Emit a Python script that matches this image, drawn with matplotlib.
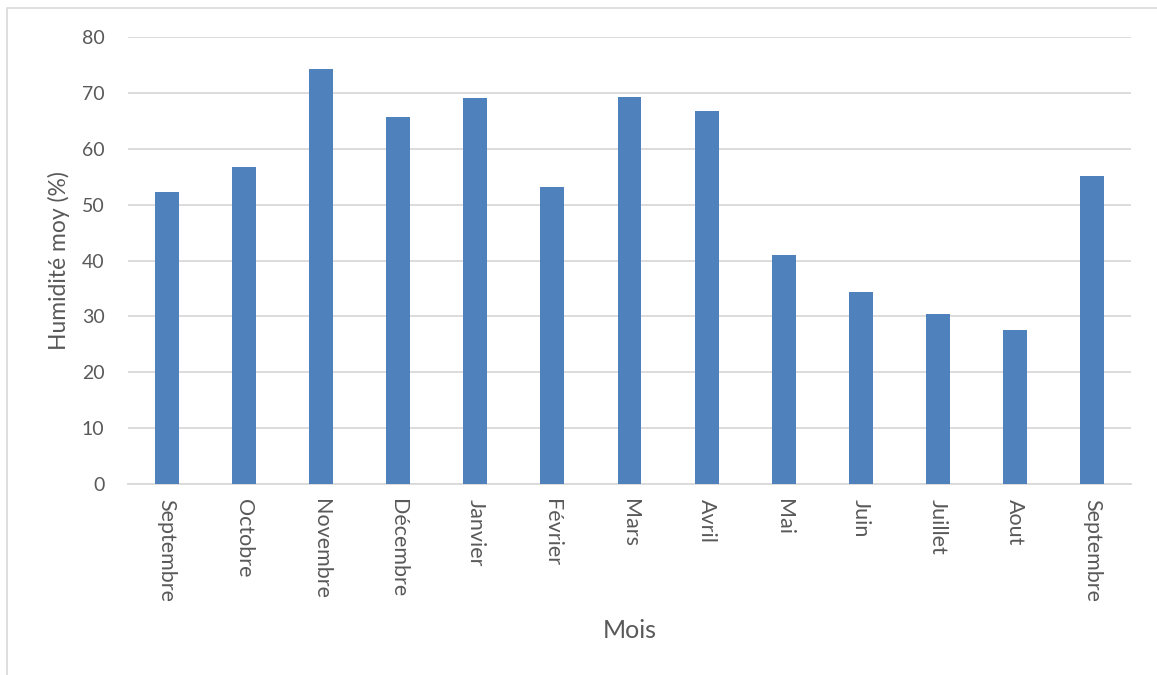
import matplotlib.pyplot as plt
from matplotlib.patches import Rectangle

mois = ["Septembre", "Octobre", "Novembre", "Décembre", "Janvier", "Février",
        "Mars", "Avril", "Mai", "Juin", "Juillet", "Aout", "Septembre"]
humidite = [52.3, 56.8, 74.2, 65.6, 69.0, 53.2, 69.3, 66.7, 40.9, 34.4, 30.5, 27.6, 55.1]

plt.rcParams["font.family"] = ["Lato", "DejaVu Sans"]
txt = "#595959"
grid = "#d9d9d9"

fig = plt.figure(figsize=(11.57, 6.75), dpi=100)
# outer chart frame (light grey, like the spreadsheet chart border)
fig.patches.append(Rectangle((7 / 1157, -0.01), 1.0, (675 - 8) / 675 + 0.01,
                             transform=fig.transFigure, fill=False,
                             edgecolor=grid, linewidth=1.2))

ax = fig.add_axes([128 / 1157, (675 - 484) / 675, (1131 - 128) / 1157, (484 - 37) / 675])
x = range(len(mois))
ax.bar(x, humidite, width=0.31, color="#4f81bd", zorder=3)

ax.set_xlim(-0.5, len(mois) - 0.5)
ax.set_ylim(0, 80)
ax.set_yticks(range(0, 81, 10))
ax.set_xticks(list(x))
ax.set_xticklabels(mois, rotation=-90, va="top", ha="center")
ax.grid(axis="y", color=grid, linewidth=1.3, zorder=0)
ax.tick_params(axis="both", length=0, colors=txt)
ax.tick_params(axis="y", pad=17, labelsize=14)
ax.tick_params(axis="x", pad=11, labelsize=15.5)

for s in ["top", "right", "left"]:
    ax.spines[s].set_visible(False)
ax.spines["bottom"].set_color(grid)
ax.spines["bottom"].set_linewidth(1.3)

ax.set_ylabel("Humidité moy (%)", color=txt, fontsize=16.5)
ax.yaxis.set_label_coords(-0.058, 0.5)
ax.set_xlabel("Mois", color=txt, fontsize=18, labelpad=12)

fig.savefig("out.png", dpi=100)
